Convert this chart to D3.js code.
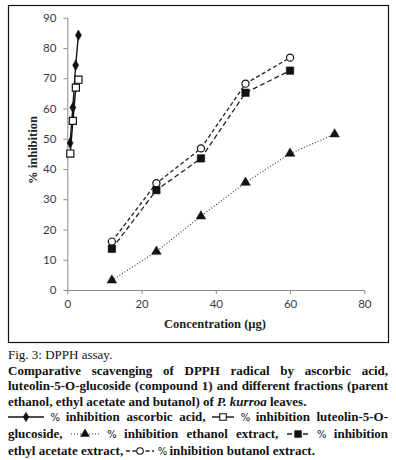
<html>
<head>
<script src="https://cdn.jsdelivr.net/npm/d3@7"></script>
<style>
  body { margin: 0; background: #fff; }
  #wrap { position: relative; width: 396px; height: 460px; overflow: hidden; }
  #cap { position: absolute; left: 8px; top: 347px; width: 380px;
         font-family: "Liberation Serif", serif; font-size: 13px; line-height: 15.6px; color: #111; }
  #cap div { white-space: nowrap; }
  #cap .j { text-align: justify; text-align-last: justify; }
  #cap .b { font-weight: bold; }
  #cap .pc { font-family: "DejaVu Sans", sans-serif; font-weight: normal; font-size: 10px; letter-spacing: -1px; }
  #cap svg { vertical-align: -1px; }
</style>
</head>
<body onload="init()">
<div id="wrap">
<svg id="chart" width="396" height="345"></svg>
<div id="cap"></div>
</div>
<script>
// values
const ascorbicX = [0.75, 1.5, 2.25, 3];
const ascorbicY = [48.6, 60.3, 74.3, 84.2];
const luteolinX = [0.8, 1.5, 2.3, 3.0];
const luteolinY = [45.1, 55.9, 66.9, 69.5];
const extractX = [12, 24, 36, 48, 60, 72];
const ethanolY = [3.2, 12.7, 24.4, 35.5, 45.1, 51.5];
const ethylY = [13.6, 33, 43.5, 65.2, 72.5];
const butanolY = [16, 35.3, 46.8, 68.2, 76.8];
const xTicks = [0, 20, 40, 60, 80];
const yTicks = [0, 10, 20, 30, 40, 50, 60, 70, 80, 90];

function init() {
    var svg = d3.select("#chart");
    svg.append('rect').attr('x', 8.5).attr('y', 5.5).attr('width', 380).attr('height', 337)
       .attr('fill', 'none').attr('stroke', '#111').attr('stroke-width', 1.2);

    var x = d3.scaleLinear().domain([0, 80]).range([67.3, 364.3]);
    var y = d3.scaleLinear().domain([0, 90]).range([290, 17.7]);

    var gx = svg.append('g').attr('transform', 'translate(0,290)')
                .call(d3.axisBottom(x).tickValues(xTicks).tickSize(4).tickSizeOuter(0).tickPadding(6));
    var gy = svg.append('g').attr('transform', 'translate(67.3,0)')
                .call(d3.axisLeft(y).tickValues(yTicks).tickSize(4).tickSizeOuter(0).tickPadding(7));
    [gx, gy].forEach(function(g) {
        g.selectAll('path, line').attr('stroke', '#8a8a8a');
        g.selectAll('text').attr('fill', '#3a3a4a').style('font-family', 'Lato, sans-serif').style('font-size', '11.5px');
    });

    svg.append('text').attr('x', 215).attr('y', 328).attr('text-anchor', 'middle')
       .style('font-family', '"Liberation Serif", serif').style('font-weight', 'bold').style('font-size', '12.5px')
       .attr('fill', '#222').text('Concentration (µg)');
    svg.append('text').attr('transform', 'translate(37,150) rotate(-90)').attr('text-anchor', 'middle')
       .style('font-family', '"Liberation Serif", serif').style('font-weight', 'bold').style('font-size', '12.5px')
       .attr('fill', '#222').text('% inhibition');

    var series = [
        { xs: ascorbicX, ys: ascorbicY, dash: null, w: 1.4, sym: d3.symbolDiamond, size: 32, fill: '#111', color: '#111' },
        { xs: luteolinX, ys: luteolinY, dash: null, w: 1.4, sym: d3.symbolSquare, size: 50, fill: '#fff', color: '#111' },
        { xs: extractX, ys: ethanolY, dash: '1,2', w: 1.1, sym: d3.symbolTriangle, size: 40, fill: '#111', color: '#333' },
        { xs: extractX, ys: ethylY, dash: '5,3', w: 1.3, sym: d3.symbolSquare, size: 56, fill: '#111', color: '#222' },
        { xs: extractX, ys: butanolY, dash: '4,2.5', w: 1.3, sym: d3.symbolCircle, size: 40, fill: '#fff', color: '#222' }
    ];

    series.forEach(function(s) {
        var pts = s.ys.map(function(v, i) { return [s.xs[i], v]; });
        svg.append('path').datum(pts).attr('fill', 'none')
           .attr('stroke', s.color).attr('stroke-width', s.w)
           .attr('stroke-dasharray', s.dash)
           .attr('d', d3.line().x(function(d) { return x(d[0]); }).y(function(d) { return y(d[1]); }));
    });
    series.forEach(function(s) {
        var pts = s.ys.map(function(v, i) { return [s.xs[i], v]; });
        svg.append('g').selectAll('path').data(pts).enter().append('path')
           .attr('transform', function(d) { return 'translate(' + x(d[0]) + ',' + y(d[1]) + ')'; })
           .attr('d', d3.symbol().type(s.sym).size(s.size))
           .attr('fill', s.fill).attr('stroke', '#111').attr('stroke-width', s.fill === '#fff' ? 1.2 : 0.5);
    });

    // caption
    var cap = d3.select('#cap');
    cap.append('div').text('Fig. 3: DPPH assay.');
    cap.append('div').attr('class', 'b j').text('Comparative scavenging of DPPH radical by ascorbic acid,');
    cap.append('div').attr('class', 'b j').text('luteolin-5-O-glucoside (compound 1) and different fractions (parent');
    var l4 = cap.append('div').attr('class', 'b');
    l4.append('span').text('ethanol, ethyl acetate and butanol) of ');
    l4.append('i').text('P. kurroa');
    l4.append('span').text(' leaves.');

    function legendSym(parent, k, wd) {
        var s = series[k];
        var g = parent.append('svg').attr('width', wd).attr('height', 10);
        g.append('line').attr('x1', 0).attr('x2', wd).attr('y1', 5).attr('y2', 5)
         .attr('stroke', s.color).attr('stroke-width', s.w).attr('stroke-dasharray', s.dash);
        g.append('path').attr('transform', 'translate(' + wd / 2 + ',5)')
         .attr('d', d3.symbol().type(s.sym).size(s.size * 0.85))
         .attr('fill', s.fill).attr('stroke', '#111').attr('stroke-width', s.fill === '#fff' ? 1.1 : 0.5);
    }
    function entry(parent, k, wd, label) {
        legendSym(parent, k, wd);
        parent.append('span').html(' <span class="pc">%</span> ' + label);
    }
    var l5 = cap.append('div').attr('class', 'b j');
    entry(l5, 0, 36, 'inhibition ascorbic acid,');
    l5.append('span').text(' ');
    entry(l5, 1, 22, 'inhibition luteolin-5-O-');
    var l6 = cap.append('div').attr('class', 'b j');
    l6.append('span').text('glucoside, ');
    entry(l6, 2, 28, 'inhibition ethanol extract,');
    l6.append('span').text(' ');
    entry(l6, 3, 22, 'inhibition');
    var l7 = cap.append('div').attr('class', 'b');
    l7.append('span').text('ethyl acetate extract, ');
    entry(l7, 4, 28, 'inhibition butanol extract.');
}
</script>
</body>
</html>
